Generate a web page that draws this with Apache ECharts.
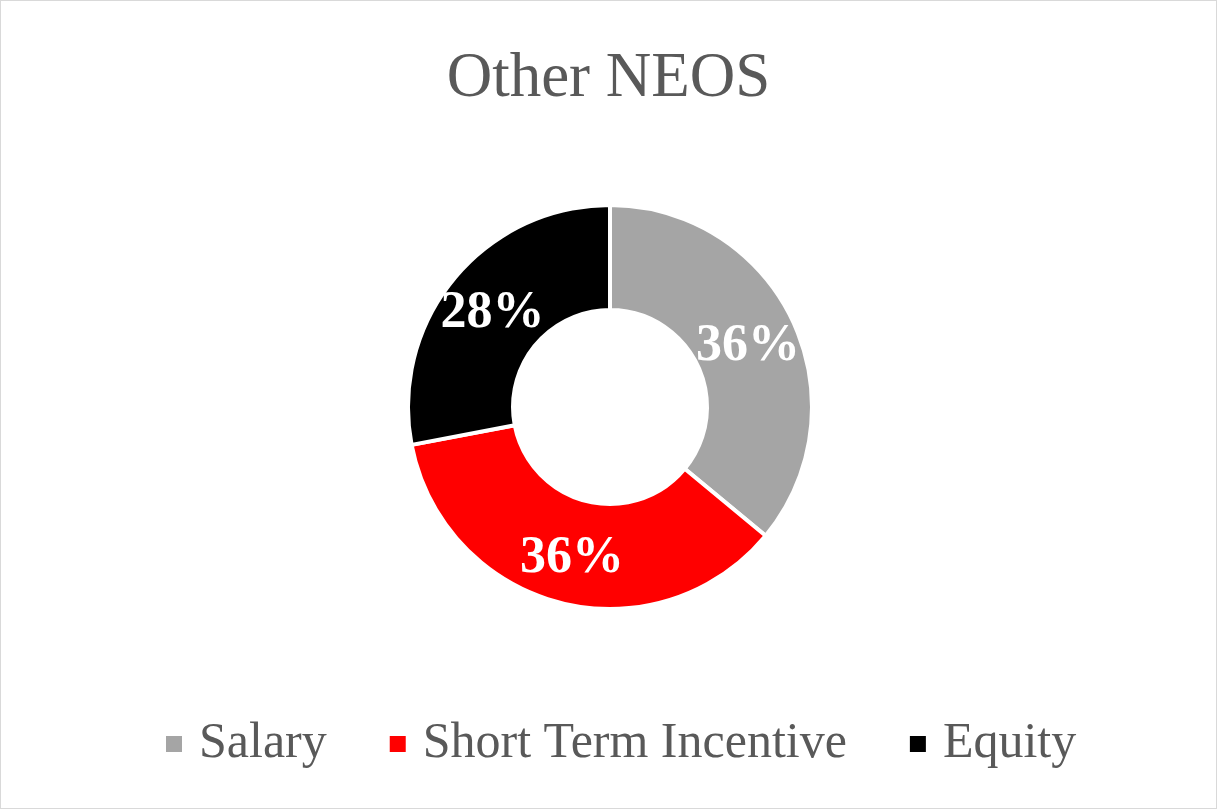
<!DOCTYPE html>
<html>
<head>
<meta charset="utf-8">
<script src="https://cdn.jsdelivr.net/npm/echarts@6/dist/echarts.min.js"></script>
<style>
html,body{margin:0;padding:0;background:#fff;}
#c{width:1215px;height:807px;border:1px solid #d9d9d9;}
</style>
</head>
<body>
<div id="c"></div>
<script>
const titleText = 'Other NEOS';
const categories = ['Salary', 'Short Term Incentive', 'Equity'];
const values = [36, 36, 28];
const colors = ['#a5a5a5', '#ff0000', '#000000'];

const chart = echarts.init(document.getElementById('c'), null, {renderer: 'canvas'});
chart.setOption({
  animation: false,
  title: {
    text: titleText,
    left: 'center',
    top: 42,
    textStyle: {fontFamily: 'Liberation Serif', fontSize: 63, fontWeight: 'normal', color: '#595959'}
  },
  legend: {
    data: categories,
    left: 158,
    top: 713,
    icon: 'rect',
    itemWidth: 18,
    itemHeight: 18,
    itemGap: 61,
    textStyle: {fontFamily: 'Liberation Serif', fontSize: 50, color: '#595959', padding: [0, 0, 0, 11]}
  },
  series: [{
    type: 'pie',
    center: [609, 406],
    radius: [97, 202],
    startAngle: 90,
    clockwise: true,
    data: categories.map((n, i) => ({name: n, value: values[i], itemStyle: {color: colors[i]}})),
    itemStyle: {borderColor: '#ffffff', borderWidth: 4},
    label: {
      show: true,
      position: 'inside',
      formatter: p => p.value + '%',
      fontFamily: 'Liberation Serif',
      fontWeight: 'bold',
      fontSize: 52,
      color: '#ffffff',
      offset: [0, 4]
    },
    labelLine: {show: false},
    emphasis: {disabled: true}
  }]
});
</script>
</body>
</html>
